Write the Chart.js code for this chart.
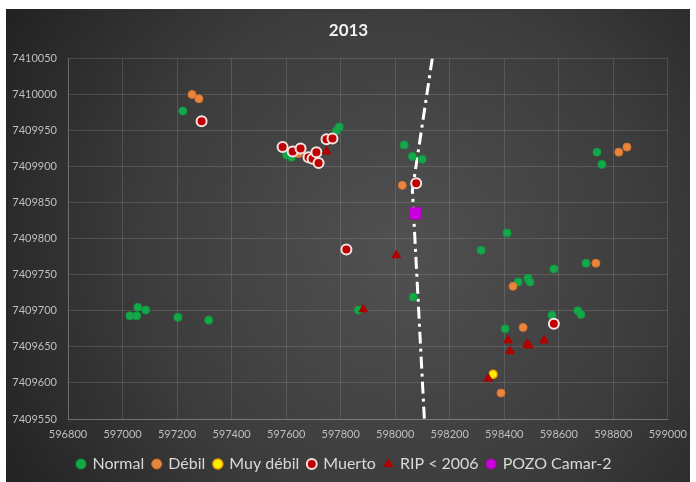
<!DOCTYPE html>
<html>
<head>
<meta charset="utf-8">
<script src="https://cdn.jsdelivr.net/npm/chart.js@4/dist/chart.umd.min.js"></script>
<style>
  html, body { margin: 0; padding: 0; background: #ffffff; }
  #wrap { width: 696px; height: 482px; position: relative; }
</style>
</head>
<body>
<div id="wrap"><canvas id="c" width="696" height="482"></canvas></div>
<script>
// ---- Data ----
const chartTitle = "2013";
const seriesNames = ["Normal", "Débil", "Muy débil", "Muerto", "RIP < 2006", "POZO Camar-2"];

const normalX = [597221, 597785, 597795, 597602, 597620, 598033, 598063, 598099, 598066, 597865,
                 597027, 597052, 597056, 597085, 597203, 597316,
                 598410, 598315, 598582, 598700, 598451, 598487, 598494, 598575, 598670, 598681, 598403,
                 598740, 598758];
const normalY = [7409977, 7409950, 7409955, 7409916, 7409913, 7409930, 7409914, 7409910, 7409719, 7409701,
                 7409693, 7409693, 7409705, 7409701, 7409691, 7409687,
                 7409808, 7409784, 7409758, 7409766, 7409740, 7409745, 7409740, 7409694, 7409700, 7409695, 7409675,
                 7409920, 7409903];

const debilX = [597255, 597280, 597645, 598026, 598432, 598469, 598736, 598388, 598820, 598850];
const debilY = [7410000, 7409994, 7409918, 7409874, 7409734, 7409677, 7409766, 7409586, 7409920, 7409927];

const muyDebilX = [598359];
const muyDebilY = [7409612];

const muertoX = [597290, 597587, 597624, 597653, 597682, 597697, 597711, 597719, 597748, 597770, 598077, 597821, 598582];
const muertoY = [7409963, 7409927, 7409921, 7409925, 7409913, 7409911, 7409920, 7409905, 7409938, 7409939, 7409877, 7409785, 7409682];

const ripX = [597748, 598004, 597883, 598414, 598421, 598484, 598490, 598546, 598341];
const ripY = [7409921, 7409777, 7409702, 7409659, 7409644, 7409654, 7409652, 7409659, 7409606];

const pozoX = [598074];
const pozoY = [7409835];

const traceX = [598136, 598063, 598107];
const traceY = [7410050, 7409867, 7409550];

const xTicks = [596800, 597000, 597200, 597400, 597600, 597800, 598000, 598200, 598400, 598600, 598800, 599000];
const yTicks = [7409550, 7409600, 7409650, 7409700, 7409750, 7409800, 7409850, 7409900, 7409950, 7410000, 7410050];

// ---- helpers ----
function pts(xs, ys) { return xs.map((x, i) => ({ x: x, y: ys[i] })); }

const bgPlugin = {
  id: 'bg',
  afterLayout(chart) {
    // nudge the title and legend blocks to the right, as in the reference
    if (chart.titleBlock) { chart.titleBlock.left += 14; chart.titleBlock.right += 14; }
    if (chart.legend) { chart.legend.left += 10; chart.legend.right += 10; }
  },
  beforeDraw(chart) {
    const ctx = chart.ctx;
    ctx.save();
    ctx.fillStyle = '#ffffff';
    ctx.fillRect(0, 0, chart.width, chart.height);
    const g = ctx.createRadialGradient(400, 250, 10, 400, 250, 460);
    g.addColorStop(0, '#505050');
    g.addColorStop(0.55, '#3c3c3c');
    g.addColorStop(1, '#222222');
    ctx.fillStyle = g;
    ctx.fillRect(6, 9, 684, 473);
    ctx.restore();
  }
};

const tickFont = { family: 'Lato, "Open Sans", sans-serif', size: 11 };

new Chart(document.getElementById('c'), {
  type: 'scatter',
  data: {
    datasets: [
      { label: seriesNames[0], data: pts(normalX, normalY), backgroundColor: '#14a84a', borderColor: '#0f9a40',
        borderWidth: 1, pointRadius: 4, pointStyle: 'circle', order: 6 },
      { label: seriesNames[1], data: pts(debilX, debilY), backgroundColor: '#e8843c', borderColor: '#d8732c',
        borderWidth: 1, pointRadius: 4, pointStyle: 'circle', order: 5 },
      { label: seriesNames[2], data: pts(muyDebilX, muyDebilY), backgroundColor: '#ffee00', borderColor: '#f0a800',
        borderWidth: 1.5, pointRadius: 4, pointStyle: 'circle', order: 4 },
      { label: seriesNames[3], data: pts(muertoX, muertoY), backgroundColor: '#c00000', borderColor: '#f4e4e4',
        borderWidth: 2, pointRadius: 5, pointStyle: 'circle', order: 3 },
      { label: seriesNames[4], data: pts(ripX, ripY), backgroundColor: '#b00000', borderColor: '#b00000',
        borderWidth: 1, pointRadius: 5, pointStyle: 'triangle', order: 2 },
      { label: seriesNames[5], data: pts(pozoX, pozoY), backgroundColor: '#cc00dd', borderColor: '#b000c0',
        borderWidth: 1, pointRadius: 8, pointStyle: 'rect', order: 1 },
      { label: 'trace', data: pts(traceX, traceY), showLine: true, borderColor: '#ffffff', backgroundColor: '#ffffff',
        borderWidth: 3, borderDash: [12, 5, 3, 5], pointRadius: 0, order: 10, fill: false }
    ]
  },
  options: {
    responsive: false,
    animation: false,
    layout: { padding: { left: 0, right: 27, top: 0, bottom: 0 } },
    plugins: {
      title: {
        display: true, text: chartTitle, color: '#f2f2f2',
        font: { family: 'Lato, "Open Sans", sans-serif', size: 17, weight: 'bold' },
        padding: { top: 20, bottom: 18 }
      },
      legend: {
        position: 'bottom',
        labels: {
          color: '#d9d9d9',
          font: { family: 'Lato, "Open Sans", sans-serif', size: 16 },
          usePointStyle: true,
          boxWidth: 7, boxHeight: 7,
          padding: 9,
          filter: item => item.text !== 'trace',
          sort: (a, b) => a.datasetIndex - b.datasetIndex,
          generateLabels(chart) {
            const items = Chart.defaults.plugins.legend.labels.generateLabels(chart);
            items.forEach(it => { if (it.pointStyle === 'rect') it.pointStyle = 'circle'; });
            return items;
          }
        }
      },
      tooltip: { enabled: false }
    },
    scales: {
      x: {
        type: 'linear', min: 596800, max: 599000,
        afterBuildTicks: s => { s.ticks = xTicks.map(v => ({ value: v })); },
        afterFit: s => { s.height = 28; },
        ticks: { color: '#bfbfbf', font: tickFont, padding: 9, maxRotation: 0, callback: v => String(v) },
        grid: { color: 'rgba(255,255,255,0.13)', drawTicks: false, lineWidth: 1 },
        border: { color: 'rgba(255,255,255,0.2)' }
      },
      y: {
        type: 'linear', min: 7409550, max: 7410050,
        afterBuildTicks: s => { s.ticks = yTicks.map(v => ({ value: v })); },
        afterFit: s => { s.width = 68; },
        ticks: { color: '#bfbfbf', font: tickFont, padding: 11, callback: v => String(v) },
        grid: { color: 'rgba(255,255,255,0.13)', drawTicks: false, lineWidth: 1 },
        border: { color: 'rgba(255,255,255,0.2)' }
      }
    }
  },
  plugins: [bgPlugin]
});
</script>
</body>
</html>
